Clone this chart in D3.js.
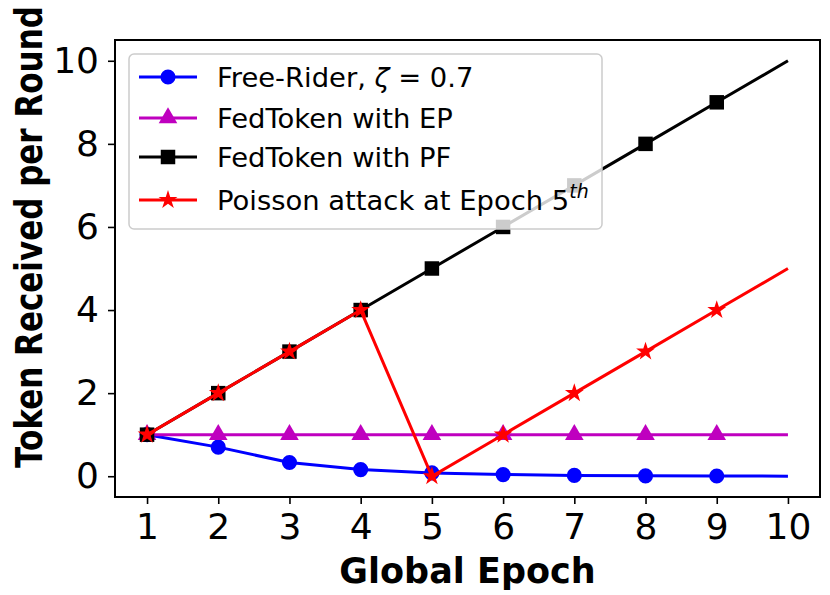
<!DOCTYPE html>
<html>
<head>
<meta charset="utf-8">
<script src="https://cdn.jsdelivr.net/npm/d3@7"></script>
<style>
  body { margin: 0; background: #fff; }
  text { font-family: "DejaVu Sans", sans-serif; }
</style>
</head>
<body>
<div id="chart"></div>
<script>
const epochs = [1, 2, 3, 4, 5, 6, 7, 8, 9, 10];
const freeRider = [1, 0.7, 0.33, 0.16, 0.08, 0.04, 0.02, 0.01, 0.005, 0.002];
const fedEP = [1, 1, 1, 1, 1, 1, 1, 1, 1, 1];
const fedPF = [1, 2, 3, 4, 5, 6, 7, 8, 9, 10];
const poisson = [1, 2, 3, 4, 0, 1, 2, 3, 4, 5];
const yTicks = [0, 2, 4, 6, 8, 10];

const width = 830, height = 595;
const mLeft = 115, mRight = 820, mTop = 40, mBottom = 497;

const svg = d3.select('#chart').append('svg')
    .attr('width', width)
    .attr('height', height);

const x = d3.scaleLinear().domain([0.55, 10.45]).range([mLeft, mRight]);
const y = d3.scaleLinear().domain([-0.5, 10.5]).range([mBottom, mTop]);

const series = [
    { name: 'fr', values: freeRider, color: '#0000ff', sym: d3.symbolCircle, size: 180 },
    { name: 'ep', values: fedEP, color: '#bf00bf', sym: d3.symbolTriangle, size: 150 },
    { name: 'pf', values: fedPF, color: '#000000', sym: d3.symbolSquare, size: 210 },
    { name: 'po', values: poisson, color: '#ff0000', sym: d3.symbolStar, size: 110 }
];

const line = d3.line()
    .x((d, i) => x(epochs[i]))
    .y(d => y(d));

const plot = svg.append('g');

series.forEach(function (s) {
    plot.append('path')
        .datum(s.values)
        .attr('d', line)
        .attr('fill', 'none')
        .attr('stroke', s.color)
        .attr('stroke-width', 3);

    // markers only on the first nine epochs
    plot.selectAll('.m-' + s.name)
        .data(s.values.slice(0, 9))
        .enter().append('path')
        .attr('class', 'm-' + s.name)
        .attr('d', d3.symbol().type(s.sym).size(s.size))
        .attr('transform', (d, i) => 'translate(' + x(epochs[i]) + ',' + y(d) + ')')
        .attr('fill', s.color);
});

// axes
const xAxis = svg.append('g')
    .attr('transform', 'translate(0,' + mBottom + ')')
    .call(d3.axisBottom(x).tickValues(epochs).tickSize(7).tickPadding(9).tickSizeOuter(0));

const yAxis = svg.append('g')
    .attr('transform', 'translate(' + mLeft + ',0)')
    .call(d3.axisLeft(y).tickValues(yTicks).tickSize(7).tickPadding(9).tickSizeOuter(0));

[xAxis, yAxis].forEach(function (a) {
    a.select('.domain').remove();
    a.selectAll('.tick line').attr('stroke', '#000').attr('stroke-width', 1.6);
    a.selectAll('.tick text')
        .attr('fill', '#000')
        .style('font-size', '36px')
        .style('font-family', '"DejaVu Sans", sans-serif');
});

svg.append('rect')
    .attr('x', mLeft).attr('y', mTop)
    .attr('width', mRight - mLeft).attr('height', mBottom - mTop)
    .attr('fill', 'none')
    .attr('stroke', '#000')
    .attr('stroke-width', 2);

// axis labels
svg.append('text')
    .attr('x', (mLeft + mRight) / 2)
    .attr('y', 583)
    .attr('text-anchor', 'middle')
    .style('font-size', '35px')
    .style('font-weight', 'bold')
    .text('Global Epoch');

svg.append('text')
    .attr('transform', 'translate(42,237) rotate(-90) scale(1,1.2)')
    .attr('text-anchor', 'middle')
    .style('font-size', '31px')
    .style('font-weight', 'bold')
    .text('Token Received per Round');

// legend
const legend = svg.append('g');
legend.append('rect')
    .attr('x', 129).attr('y', 54)
    .attr('width', 473).attr('height', 175)
    .attr('rx', 5)
    .attr('fill', '#fff')
    .attr('fill-opacity', 0.8)
    .attr('stroke', '#cccccc')
    .attr('stroke-width', 1.5);

const rowsY = [77, 118, 157, 200];
series.forEach(function (s, i) {
    const g = legend.append('g').attr('transform', 'translate(0,' + rowsY[i] + ')');
    g.append('line')
        .attr('x1', 139).attr('x2', 197)
        .attr('stroke', s.color).attr('stroke-width', 3);
    g.append('path')
        .attr('d', d3.symbol().type(s.sym).size(s.size))
        .attr('transform', 'translate(168,0)')
        .attr('fill', s.color);
});

const lt = legend.append('g').style('font-size', '27.4px');
const t0 = lt.append('text').attr('x', 217).attr('y', rowsY[0] + 10);
t0.append('tspan').text('Free-Rider, ');
t0.append('tspan').style('font-style', 'italic').text('ζ');
t0.append('tspan').text(' = 0.7');
lt.append('text').attr('x', 217).attr('y', rowsY[1] + 10).text('FedToken with EP');
lt.append('text').attr('x', 217).attr('y', rowsY[2] + 10).text('FedToken with PF');
const t3 = lt.append('text').attr('x', 217).attr('y', rowsY[3] + 10);
t3.append('tspan').text('Poisson attack at Epoch 5');
t3.append('tspan').attr('dy', -12).style('font-size', '19px').style('font-style', 'italic').text('th');
</script>
</body>
</html>
